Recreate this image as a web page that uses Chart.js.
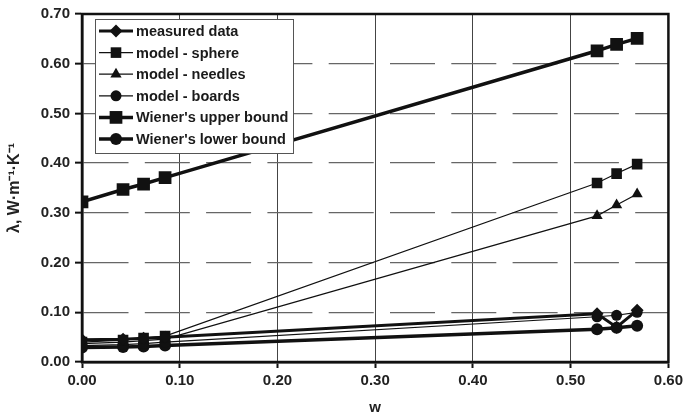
<!DOCTYPE html>
<html>
<head>
<meta charset="utf-8">
<script src="https://cdn.jsdelivr.net/npm/chart.js@4.4.1/dist/chart.umd.min.js"></script>
<style>
html, body { margin: 0; padding: 0; background: #fff; }
#wrap { width: 687px; height: 418px; }
</style>
</head>
<body>
<div id="wrap"><canvas id="chart" width="687" height="418"></canvas></div>
<script>
// values
const wValues      = [0.000, 0.042, 0.063, 0.085, 0.527, 0.547, 0.568];
const measuredData = [0.045, 0.046, 0.048, 0.050, 0.097, 0.070, 0.104];
const modelSphere  = [0.040, 0.044, 0.048, 0.052, 0.360, 0.379, 0.398];
const modelNeedles = [0.037, 0.040, 0.043, 0.046, 0.294, 0.316, 0.338];
const modelBoards  = [0.033, 0.035, 0.037, 0.040, 0.091, 0.094, 0.100];
const wienerUpper  = [0.322, 0.347, 0.358, 0.371, 0.626, 0.639, 0.651];
const wienerLower  = [0.029, 0.030, 0.031, 0.033, 0.066, 0.069, 0.073];

const seriesNames = ['measured data', 'model - sphere', 'model - needles', 'model - boards', "Wiener's upper bound", "Wiener's lower bound"];
const xTickValues = [0.0, 0.1, 0.2, 0.3, 0.4, 0.5, 0.6];
const yTickValues = [0.0, 0.1, 0.2, 0.3, 0.4, 0.5, 0.6, 0.7];

const FONT = "Arial, 'Liberation Sans', sans-serif";
const INK = '#111';

function toPoints(ys)
{
    return wValues.map((x, i) => ({ x: x, y: ys[i] }));
}

function makeSet(label, ys, style, radius, width)
{
    return {
        label: label,
        data: toPoints(ys),
        borderColor: INK,
        backgroundColor: INK,
        borderWidth: width,
        pointStyle: style,
        pointRadius: radius,
        pointBorderWidth: 0,
        pointBackgroundColor: INK,
        tension: 0
    };
}

const datasets = [
    makeSet(seriesNames[0], measuredData, 'rectRot', 6.5, 3),
    makeSet(seriesNames[1], modelSphere, 'rect', 7.5, 1.2),
    makeSet(seriesNames[2], modelNeedles, 'triangle', 6.5, 1.2),
    makeSet(seriesNames[3], modelBoards, 'circle', 5.5, 1.2),
    makeSet(seriesNames[4], wienerUpper, 'rect', 9, 3.5),
    makeSet(seriesNames[5], wienerLower, 'circle', 6, 3.5)
];

// frame around the plot area
const framePlugin = {
    id: 'frame',
    beforeDatasetsDraw(chart)
    {
        const a = chart.chartArea;
        const ctx = chart.ctx;
        ctx.save();
        ctx.strokeStyle = INK;
        ctx.lineWidth = 2.5;
        ctx.strokeRect(a.left, a.top, a.right - a.left, a.bottom - a.top);
        ctx.restore();
    }
};

// legend box drawn inside the plot
const boxLegendPlugin = {
    id: 'boxLegend',
    afterDraw(chart)
    {
        const ctx = chart.ctx;
        const x0 = 95, y0 = 19, w = 198, h = 134;
        ctx.save();
        ctx.fillStyle = '#fff';
        ctx.fillRect(x0, y0, w, h);
        ctx.strokeStyle = '#555';
        ctx.lineWidth = 1;
        ctx.strokeRect(x0 + 0.5, y0 + 0.5, w, h);

        chart.data.datasets.forEach((ds, i) => {
            const cy = 31 + i * 21.6;
            ctx.strokeStyle = INK;
            ctx.lineWidth = ds.borderWidth;
            ctx.beginPath();
            ctx.moveTo(99, cy);
            ctx.lineTo(133, cy);
            ctx.stroke();

            ctx.fillStyle = INK;
            Chart.helpers.drawPoint(ctx, {
                pointStyle: ds.pointStyle,
                radius: ds.pointRadius,
                rotation: 0,
                borderWidth: 0
            }, 116, cy);

            ctx.fillStyle = '#1a1a1a';
            ctx.font = 'bold 14.5px ' + FONT;
            ctx.textAlign = 'left';
            ctx.textBaseline = 'middle';
            ctx.fillText(ds.label, 136, cy + 1);
        });
        ctx.restore();
    }
};

const config = {
    type: 'line',
    data: { datasets: datasets },
    options: {
        responsive: false,
        animation: false,
        layout: { padding: { top: 11, right: 16, left: 0, bottom: 0 } },
        plugins: {
            legend: { display: false },
            tooltip: { enabled: false }
        },
        scales: {
            x: {
                type: 'linear',
                min: 0,
                max: 0.6,
                afterFit(s) { s.height = 56; },
                afterBuildTicks(s) { s.ticks = xTickValues.map(v => ({ value: v })); },
                ticks: {
                    color: '#222',
                    font: { family: FONT, size: 15, weight: 'bold' },
                    padding: 4,
                    maxRotation: 0,
                    callback: v => Number(v).toFixed(2)
                },
                grid: {
                    color: '#444',
                    lineWidth: 1,
                    tickLength: 6,
                    tickColor: INK,
                    tickWidth: 2
                },
                border: { display: true, color: INK, width: 2.5 },
                title: {
                    display: true,
                    text: 'w',
                    color: '#222',
                    font: { family: FONT, size: 15, weight: 'bold' },
                    padding: { top: 0, bottom: 1 }
                }
            },
            y: {
                type: 'linear',
                min: 0,
                max: 0.7,
                afterFit(s) { s.width = 82; },
                afterBuildTicks(s) { s.ticks = yTickValues.map(v => ({ value: v })); },
                ticks: {
                    color: '#222',
                    font: { family: FONT, size: 15, weight: 'bold' },
                    padding: 5,
                    callback: v => Number(v).toFixed(2)
                },
                grid: {
                    color: '#666',
                    lineWidth: 1.3,
                    tickLength: 7,
                    tickColor: INK,
                    tickWidth: 2,
                    tickBorderDash: []
                },
                border: { display: true, color: INK, width: 2.5, dash: [45, 16.3] },
                title: {
                    display: true,
                    text: 'λ, W·m⁻¹·K⁻¹',
                    color: '#222',
                    font: { family: FONT, size: 16, weight: 'bold' },
                    padding: { top: 5, bottom: 0 }
                }
            }
        }
    },
    plugins: [framePlugin, boxLegendPlugin]
};

new Chart(document.getElementById('chart'), config);
</script>
</body>
</html>
